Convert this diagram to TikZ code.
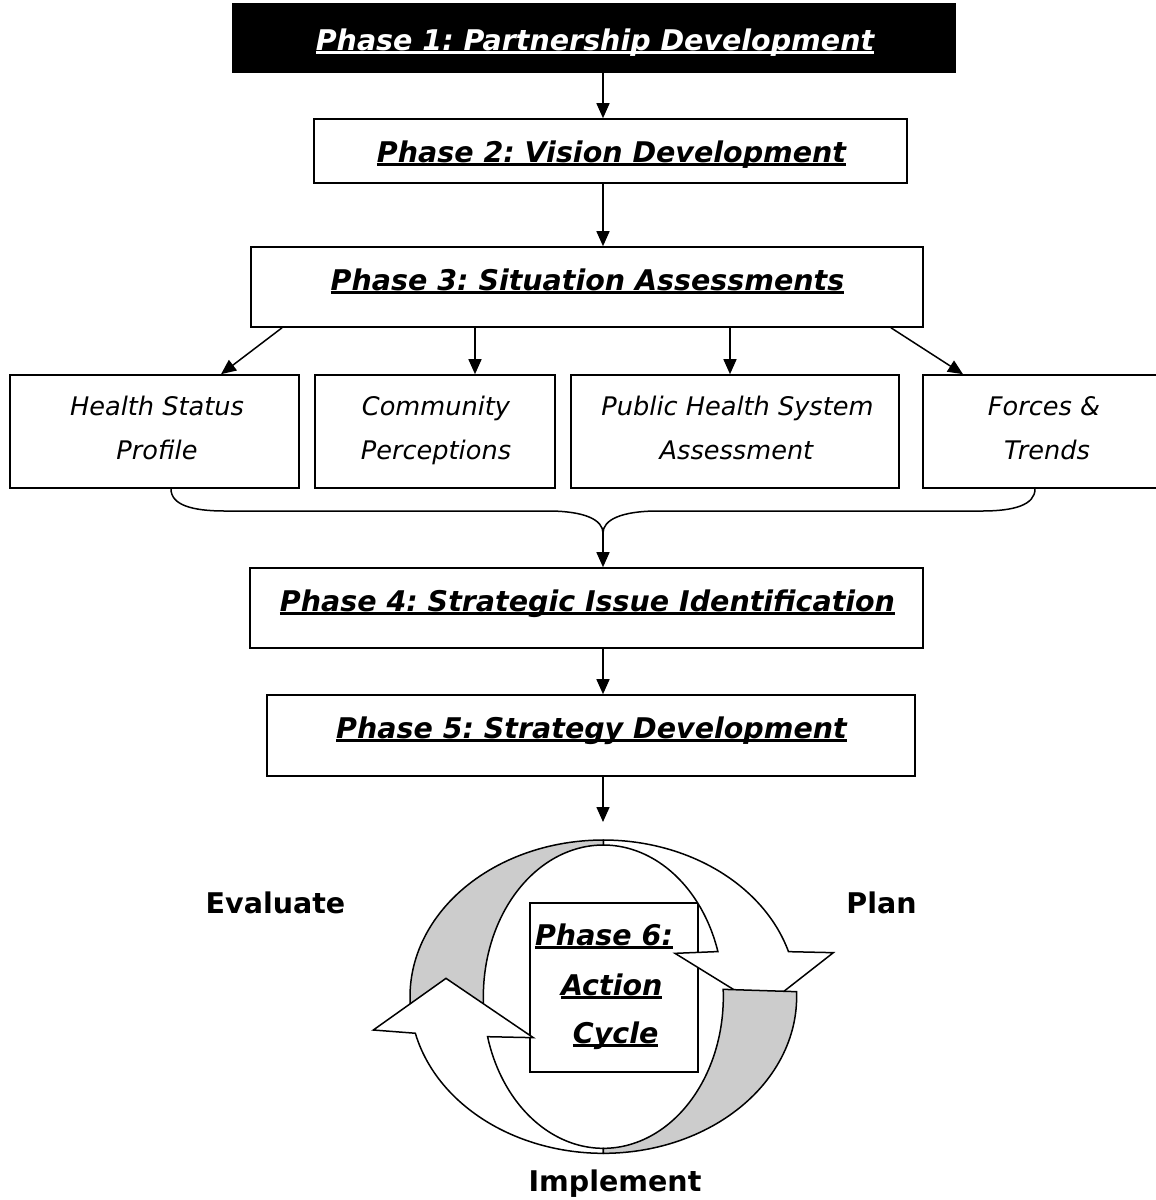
\documentclass[tikz,border=0pt]{standalone}
\usepackage{fontspec}
\setmainfont{DejaVu Sans}[BoldFont={DejaVu Sans Bold},ItalicFont={DejaVu Sans Oblique},BoldItalicFont={DejaVu Sans Bold Oblique}]
\usetikzlibrary{arrows.meta}
\frenchspacing
\newcommand\myul[1]{\setbox0=\hbox{#1}\rlap{\rule[-4pt]{\wd0}{2.6pt}}\box0}
\begin{document}
\begin{tikzpicture}[x=1pt,y=-1pt,
  box/.style={draw=black, line width=1.6pt, fill=white, inner sep=0pt},
  ptext/.style={anchor=base, inner sep=0pt, font=\fontsize{28.5}{34}\selectfont\bfseries\itshape},
  stext/.style={anchor=base, inner sep=0pt, font=\fontsize{25.6}{30}\selectfont\itshape},
  ltext/.style={anchor=base, inner sep=0pt, font=\fontsize{28.5}{34}\selectfont\bfseries},
  arr/.style={line width=1.5pt, -{Triangle[length=15pt,width=13pt]}},
  conn/.style={line width=1.5pt},
  band/.style={draw=black, line width=1.5pt, fill=white, line join=miter},
  back/.style={draw=black, line width=1.5pt, fill=black!20}
]
\useasboundingbox (0,0) rectangle (1156,1200);
\clip (0,0) rectangle (1156,1200);

% phase boxes
\node[box, fill=black, minimum width=722pt, minimum height=68pt] (p1) at (594,38) {};
\node[ptext, text=white] (p1t) at (595,50) {\myul{Phase 1: Partnership Development}};
\node[box, minimum width=593pt, minimum height=64pt] (p2) at (610.5,151) {};
\node[ptext] (p2t) at (611.5,162) {\myul{Phase 2: Vision Development}};
\node[box, minimum width=672pt, minimum height=80pt] (p3) at (587,287) {};
\node[ptext] (p3t) at (587.5,290) {\myul{Phase 3: Situation Assessments}};
\node[box, minimum width=673pt, minimum height=80pt] (p4) at (586.5,608) {};
\node[ptext] (p4t) at (587.5,611) {\myul{Phase 4: Strategic Issue Identification}};
\node[box, minimum width=648pt, minimum height=81pt] (p5) at (591,735.5) {};
\node[ptext] (p5t) at (591.5,738) {\myul{Phase 5: Strategy Development}};

% sub boxes
\node[box, minimum width=289pt, minimum height=113pt] (sb1) at (154.5,431.5) {};
\node[box, minimum width=240pt, minimum height=113pt] (sb2) at (435,431.5) {};
\node[box, minimum width=328pt, minimum height=113pt] (sb3) at (735,431.5) {};
\node[box, minimum width=247pt, minimum height=113pt] (sb4) at (1046.5,431.5) {};
\node[stext] (sb1a) at (157,415) {Health Status};
\node[stext] (sb1b) at (157,459) {Profile};
\node[stext] (sb2a) at (436,415) {Community};
\node[stext] (sb2b) at (436,459) {Perceptions};
\node[stext] (sb3a) at (737.5,415) {Public Health System};
\node[stext] (sb3b) at (736.5,459) {Assessment};
\node[stext] (sb4a) at (1044,415) {Forces \&};
\node[stext] (sb4b) at (1047,459) {Trends};

% connector x positions
\coordinate (ax) at (603,0);
\coordinate (x282) at (282,0);
\coordinate (x221) at (221,0);
\coordinate (x475) at (475,0);
\coordinate (x730) at (730,0);
\coordinate (x891) at (891,0);
\coordinate (x963) at (963,0);
\coordinate (x171) at (171,0);
\coordinate (x1035) at (1035,0);
\coordinate (bj) at (603,533);
\coordinate (cyc) at (603,822);

\draw[arr] (p1.south -| ax) -- (p2.north -| ax);
\draw[arr] (p2.south -| ax) -- (p3.north -| ax);
\draw[arr] (p3.south -| x282) -- (sb1.north -| x221);
\draw[arr] (p3.south -| x475) -- (sb2.north -| x475);
\draw[arr] (p3.south -| x730) -- (sb3.north -| x730);
\draw[arr] (p3.south -| x891) -- (sb4.north -| x963);

% brace
\draw[conn] (sb1.south -| x171) .. controls (171,505) and (192,511) .. (225,511) -- (548,511) .. controls (585,511) and (603,520) .. (bj);
\draw[conn] (sb4.south -| x1035) .. controls (1035,505) and (1014,511) .. (982,511) -- (658,511) .. controls (621,511) and (603,520) .. (bj);
\draw[arr] (bj) -- (p4.north -| ax);
\draw[arr] (p4.south -| ax) -- (p5.north -| ax);
\draw[arr] (p5.south -| ax) -- (cyc);

% phase 6 box
\node[box, minimum width=168pt, minimum height=169pt] (p6) at (614,987.5) {};

% cycle arrows
\begin{scope}[shift={(360,800)}, x=0.333333pt, y=-0.333333pt]
\draw[band] plot[domain=-90:-16.7,samples=60] ({730+580*cos(\x)},{590+470*sin(\x)}) -- (1420,458) -- (1209,623) -- (945,460) -- plot[domain=-17.3:-90,samples=60] ({730+360*cos(\x)},{590+455*sin(\x)}) -- cycle;
\draw[back] plot[domain=-90:-187.3,samples=60] ({730+580*cos(\x)},{590+470*sin(\x)}) -- plot[domain=-187.6:-90,samples=60] ({730+360*cos(\x)},{590+455*sin(\x)}) -- cycle;
\draw[band] plot[domain=90:166.5,samples=60] ({730+580*cos(\x)},{590+470*sin(\x)}) -- (40,690) -- (258,535) -- (520,713) -- plot[domain=164.7:90,samples=60] ({730+360*cos(\x)},{590+455*sin(\x)}) -- cycle;
\draw[back] plot[domain=-1.83:90,samples=60] ({730+580*cos(\x)},{590+470*sin(\x)}) -- plot[domain=90:-2.77,samples=60] ({730+360*cos(\x)},{590+455*sin(\x)}) -- cycle;
\end{scope}

\node[ptext] (p6a) at (604,945) {\myul{Phase 6:}};
\node[ptext] (p6b) at (611.7,995) {\myul{Action}};
\node[ptext] (p6c) at (615.7,1043) {\myul{Cycle}};

\node[ltext] (ev) at (275.5,913) {Evaluate};
\node[ltext] (pl) at (881.5,913) {Plan};
\node[ltext] (im) at (615,1191) {Implement};
\end{tikzpicture}
\end{document}
